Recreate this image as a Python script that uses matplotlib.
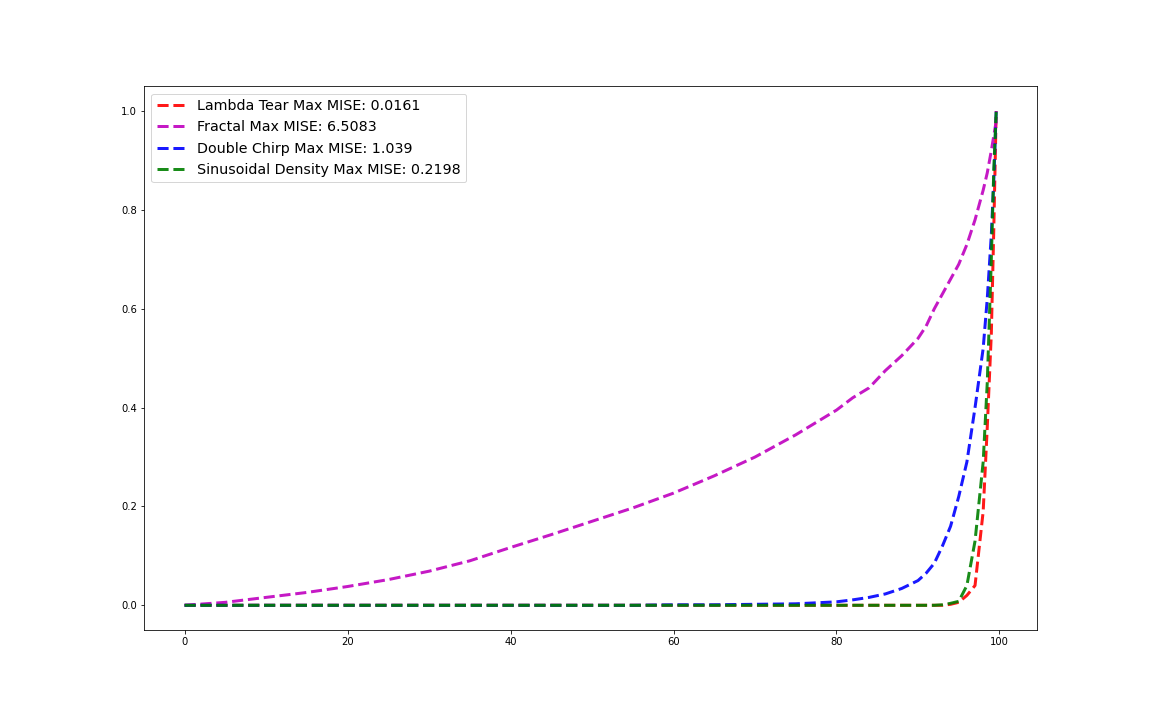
import numpy as np
import matplotlib
matplotlib.use("Agg")
import matplotlib.pyplot as plt

# sample positions (percent)
x = [0, 5, 10, 15, 20, 25, 30, 35, 40, 45, 50, 55, 60, 65, 70, 75, 80, 82, 84, 86, 88,
     90, 91, 92, 93, 94, 95, 96, 97, 98, 98.5, 99, 99.3, 99.6]

lambda_tear = [0, 0, 0, 0, 0, 0, 0, 0, 0, 0, 0, 0, 0, 0, 0, 0, 0, 0, 0, 0, 0,
               0, 0, 0, 0, 0.002, 0.006, 0.02, 0.04, 0.19, 0.36, 0.55, 0.76, 1.0]
fractal = [0, 0.006, 0.016, 0.026, 0.038, 0.052, 0.069, 0.09, 0.117, 0.143, 0.17, 0.197,
           0.227, 0.262, 0.30, 0.345, 0.395, 0.42, 0.44, 0.475, 0.505,
           0.54, 0.565, 0.60, 0.63, 0.66, 0.69, 0.73, 0.78, 0.84, 0.875, 0.92, 0.95, 0.98]
double_chirp = [0, 0, 0, 0, 0, 0, 0, 0, 0, 0, 0, 0, 0.001, 0.001, 0.002, 0.003, 0.007,
                0.011, 0.016, 0.023, 0.034, 0.05, 0.065, 0.085, 0.12, 0.16, 0.22, 0.29,
                0.40, 0.52, 0.62, 0.75, 0.86, 1.0]
sinusoidal = [0, 0, 0, 0, 0, 0, 0, 0, 0, 0, 0, 0, 0, 0, 0, 0, 0, 0, 0, 0, 0,
              0, 0, 0, 0.001, 0.004, 0.008, 0.04, 0.13, 0.29, 0.45, 0.70, 0.88, 1.0]

labels = ['Lambda Tear Max MISE: 0.0161', 'Fractal Max MISE: 6.5083',
          'Double Chirp Max MISE: 1.039', 'Sinusoidal Density Max MISE: 0.2198']

fig = plt.figure(figsize=(16, 10), dpi=72)
plt.subplots_adjust(left=0.125, right=0.9, top=0.88, bottom=0.125)

plt.plot(x, lambda_tear, 'r--', lw=3, alpha=0.9, label=labels[0])
plt.plot(x, fractal, 'm--', lw=3, alpha=0.9, label=labels[1])
plt.plot(x, double_chirp, 'b--', lw=3, alpha=0.9, label=labels[2])
plt.plot(x, sinusoidal, 'g--', lw=3, alpha=0.9, label=labels[3])

plt.legend(loc='upper left', fontsize=14.3)
plt.savefig('out.png', dpi=72)
